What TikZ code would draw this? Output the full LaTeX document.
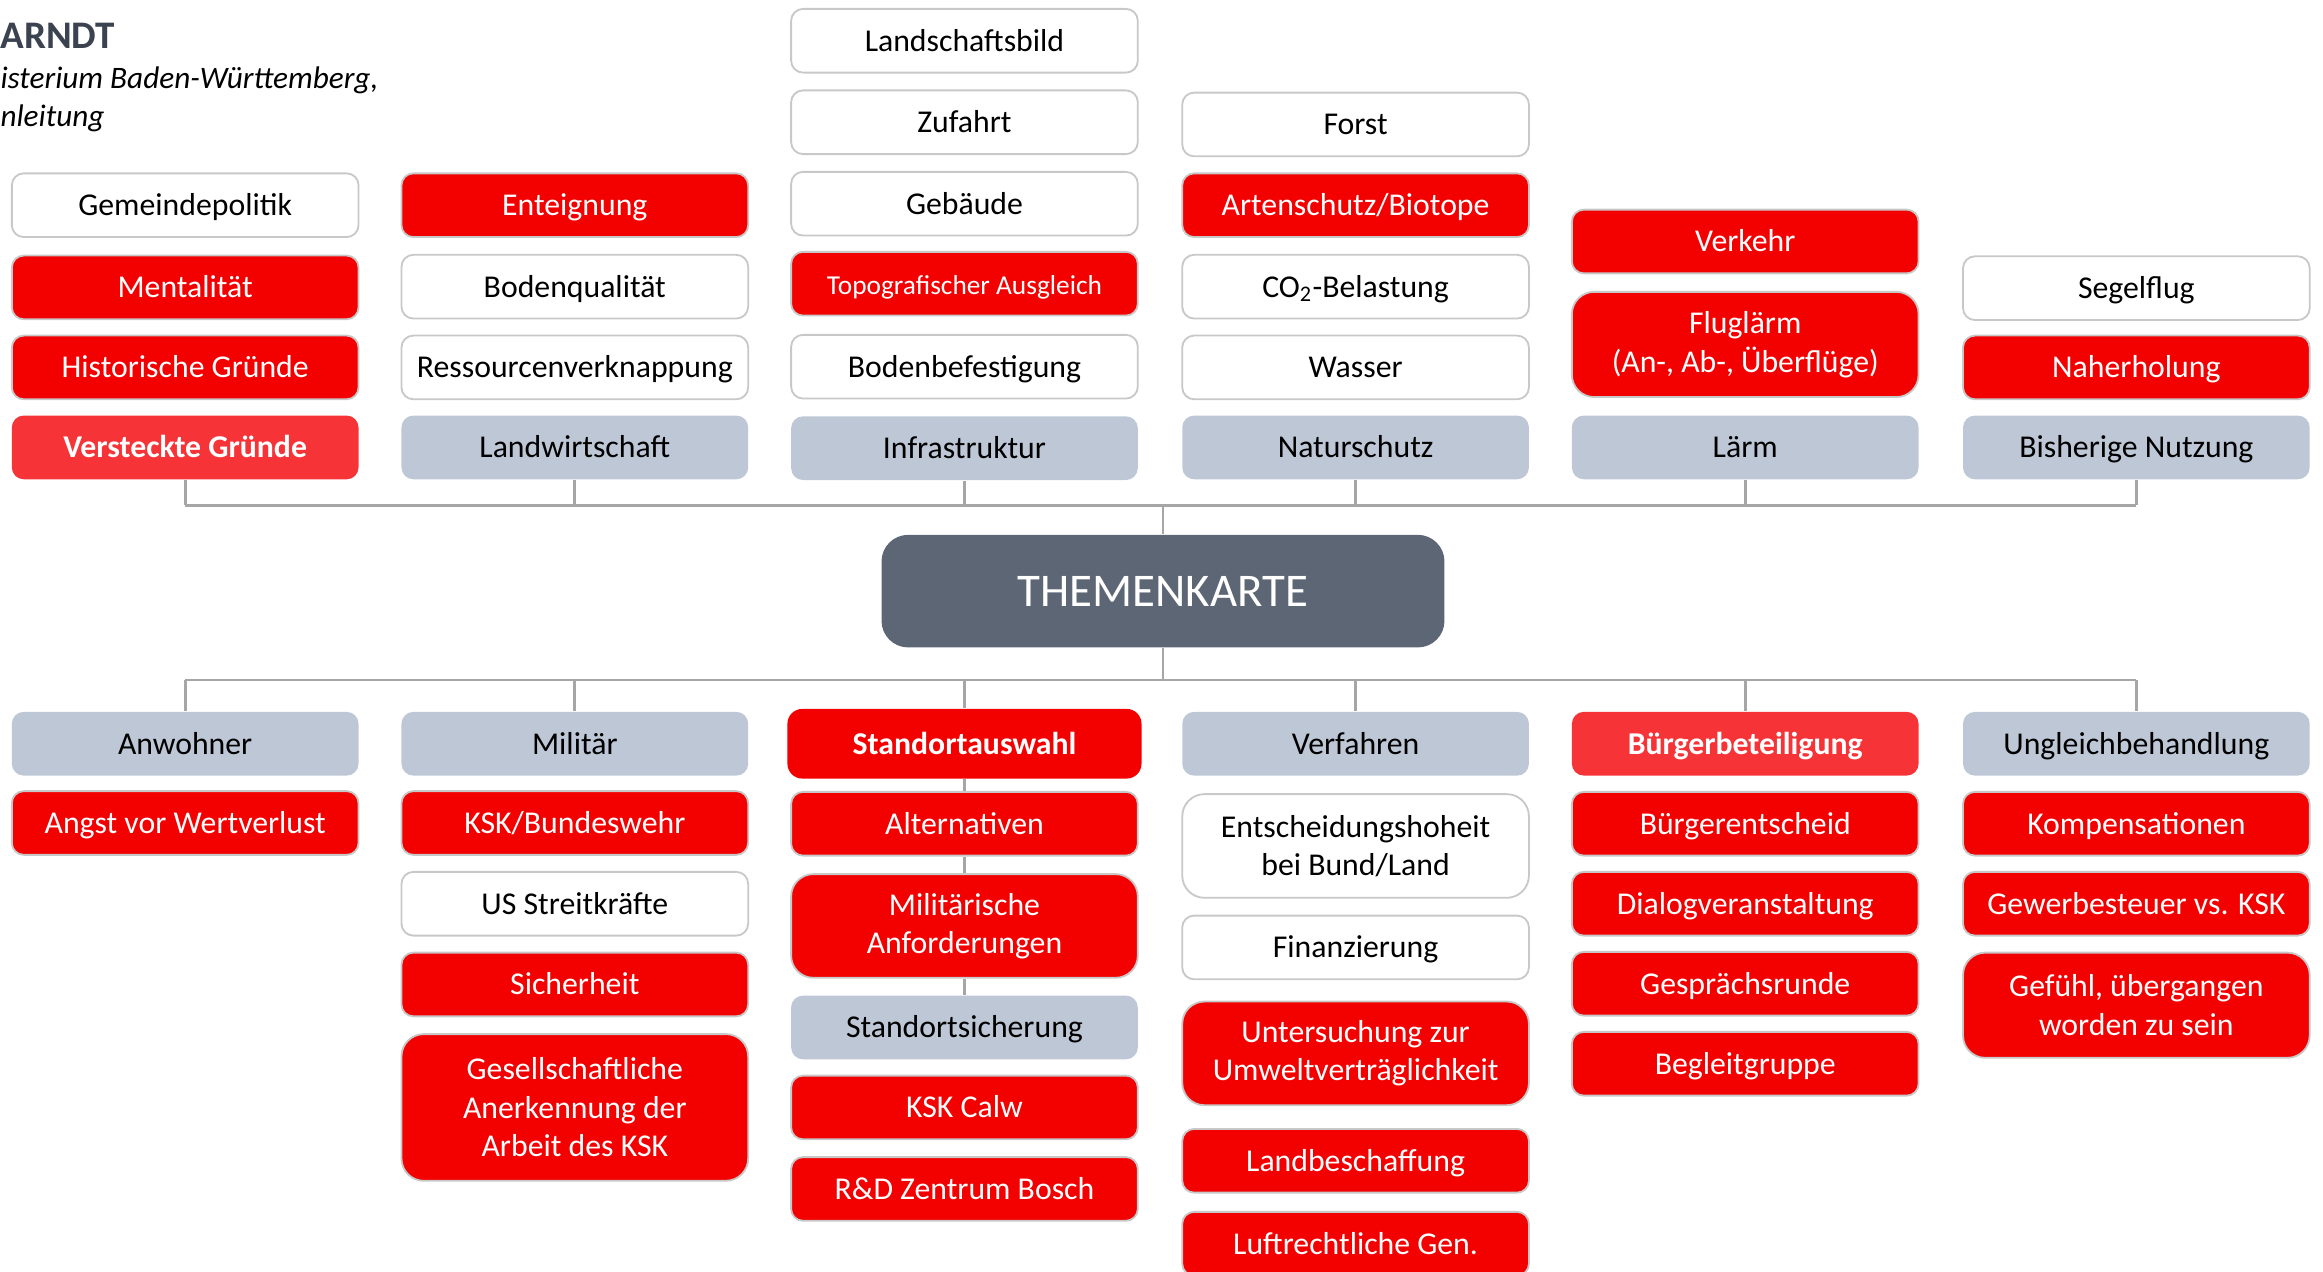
\documentclass[tikz,border=0pt]{standalone}
\usepackage{fontspec}
\setmainfont{Carlito}
\usepackage{xcolor}
\usepackage{tikz}

\definecolor{issuered}{RGB}{243,0,0}
\definecolor{keyred}{RGB}{246,52,56}
\definecolor{catgray}{RGB}{190,199,214}
\definecolor{boxline}{RGB}{200,200,200}
\definecolor{hubgray}{RGB}{93,102,117}
\definecolor{linegray}{RGB}{166,166,166}
\definecolor{headgray}{RGB}{59,66,80}

\begin{document}
\begin{tikzpicture}[
    topic/.style={
        rectangle,
        rounded corners=0.16cm,
        minimum width=4.68cm,
        minimum height=0.86cm,
        text height=10pt,
        text depth=2pt,
        inner sep=2pt,
        align=center,
        draw=boxline,
        line width=0.7pt,
        fill=white,
        font=\fontsize{12.2}{14.8}\selectfont
    },
    issue/.style={topic, fill=issuered, text=white},
    keyissue/.style={
        topic,
        draw=none,
        fill=keyred,
        text=white,
        font=\fontsize{12.2}{14.8}\selectfont\bfseries
    },
    category/.style={topic, draw=none, fill=catgray},
    tall/.style={
        minimum height=#1,
        rounded corners=0.3cm,
        text height={},
        text depth={}
    },
    link/.style={draw=linegray, line width=1.1pt}
]

    \useasboundingbox (0,0) rectangle (31.36,-17.16);

    % Header
    \node[anchor=west, inner sep=0, text=headgray,
          font=\fontsize{15}{18}\selectfont\bfseries] (autor) at (0,-0.48) {ARNDT};
    \node[anchor=west, inner sep=0,
          font=\fontsize{12}{14.8}\selectfont\itshape] (quelle) at (0,-1.08) {isterium Baden-Württemberg,};
    \node[anchor=west, inner sep=0,
          font=\fontsize{12}{14.8}\selectfont\itshape] (quelleb) at (0,-1.6) {nleitung};

    % Central node
    \node[fill=hubgray, text=white, rounded corners=0.36cm,
          minimum width=7.6cm, minimum height=1.52cm,
          font=\fontsize{18}{22}\selectfont] (karte) at (15.7,-7.98) {THEMENKARTE};

    % Upper column 1
    \node[topic] (gemeinde) at (2.5,-2.77) {Gemeindepolitik};
    \node[issue] (mental) at (2.5,-3.88) {Mentalität};
    \node[issue] (histor) at (2.5,-4.96) {Historische Gründe};
    \node[keyissue] (versteckt) at (2.5,-6.04) {Versteckte Gründe};

    % Upper column 2
    \node[issue] (enteign) at (7.76,-2.77) {Enteignung};
    \node[topic] (boden) at (7.76,-3.87) {Bodenqualität};
    \node[topic] (ressourc) at (7.76,-4.96) {Ressourcenverknappung};
    \node[category] (landw) at (7.76,-6.04) {Landwirtschaft};

    % Upper column 3
    \node[topic] (landsch) at (13.02,-0.55) {Landschaftsbild};
    \node[topic] (zufahrt) at (13.02,-1.65) {Zufahrt};
    \node[topic] (gebaeude) at (13.02,-2.75) {Gebäude};
    \node[issue, font=\fontsize{10.5}{13}\selectfont] (topo) at (13.02,-3.83) {Topografischer Ausgleich};
    \node[topic] (befest) at (13.02,-4.95) {Bodenbefestigung};
    \node[category] (infra) at (13.02,-6.05) {Infrastruktur};

    % Upper column 4
    \node[topic] (forst) at (18.3,-1.68) {Forst};
    \node[issue] (arten) at (18.3,-2.77) {Artenschutz/Biotope};
    \node[topic] (cozwei) at (18.3,-3.87) {CO\textsubscript{2}-Belastung};
    \node[topic] (wasser) at (18.3,-4.96) {Wasser};
    \node[category] (natur) at (18.3,-6.04) {Naturschutz};

    % Upper column 5
    \node[issue] (verkehr) at (23.56,-3.26) {Verkehr};
    \node[issue, tall=1.42cm] (flug) at (23.56,-4.65) {Fluglärm\\(An-, Ab-, Überflüge)};
    \node[category] (laerm) at (23.56,-6.04) {Lärm};

    % Upper column 6
    \node[topic] (segel) at (28.84,-3.89) {Segelflug};
    \node[issue] (naherh) at (28.84,-4.96) {Naherholung};
    \node[category] (nutzung) at (28.84,-6.04) {Bisherige Nutzung};

    % Lower column 1
    \node[category] (anwohner) at (2.5,-10.04) {Anwohner};
    \node[issue] (wert) at (2.5,-11.11) {Angst vor Wertverlust};

    % Lower column 2
    \node[category] (militaer) at (7.76,-10.04) {Militär};
    \node[issue] (bundesw) at (7.76,-11.11) {KSK/Bundeswehr};
    \node[topic] (usa) at (7.76,-12.2) {US Streitkräfte};
    \node[issue] (sicher) at (7.76,-13.29) {Sicherheit};
    \node[issue, tall=1.98cm] (anerk) at (7.76,-14.95)
        {Gesellschaftliche\\Anerkennung der\\Arbeit des KSK};

    % Lower column 3
    \node[issue, draw=none, minimum width=4.78cm, minimum height=0.94cm,
          rounded corners=0.2cm, font=\fontsize{12.2}{14.8}\selectfont\bfseries]
        (standort) at (13.02,-10.04) {Standortauswahl};
    \node[issue] (altern) at (13.02,-11.12) {Alternativen};
    \node[issue, tall=1.4cm] (anford) at (13.02,-12.5) {Militärische\\Anforderungen};
    \node[category] (sicherung) at (13.02,-13.87) {Standortsicherung};
    \node[issue] (calw) at (13.02,-14.95) {KSK Calw};
    \node[issue] (bosch) at (13.02,-16.05) {R\&D Zentrum Bosch};

    % Lower column 4
    \node[category] (verfahren) at (18.3,-10.04) {Verfahren};
    \node[topic, tall=1.4cm] (hoheit) at (18.3,-11.42) {Entscheidungshoheit\\bei Bund/Land};
    \node[topic] (finanz) at (18.3,-12.79) {Finanzierung};
    \node[issue, tall=1.4cm] (uvp) at (18.3,-14.22) {Untersuchung zur\\Umweltverträglichkeit};
    \node[issue] (landbe) at (18.3,-15.67) {Landbeschaffung};
    \node[issue] (luftr) at (18.3,-16.79) {Luftrechtliche Gen.};

    % Lower column 5
    \node[keyissue] (buerger) at (23.56,-10.04) {Bürgerbeteiligung};
    \node[issue] (entscheid) at (23.56,-11.12) {Bürgerentscheid};
    \node[issue] (dialog) at (23.56,-12.2) {Dialogveranstaltung};
    \node[issue] (gespraech) at (23.56,-13.28) {Gesprächsrunde};
    \node[issue] (begleit) at (23.56,-14.36) {Begleitgruppe};

    % Lower column 6
    \node[category] (ungleich) at (28.84,-10.04) {Ungleichbehandlung};
    \node[issue] (kompens) at (28.84,-11.12) {Kompensationen};
    \node[issue] (gewerbe) at (28.84,-12.2) {Gewerbesteuer vs. KSK};
    \node[issue, tall=1.42cm] (gefuehl) at (28.84,-13.57) {Gefühl, übergangen\\worden zu sein};

    % Bus lines
    \coordinate (obus) at (15.7,-6.82);
    \coordinate (ubus) at (15.7,-9.18);

    \draw[link] (karte.north) -- (obus);
    \draw[link] (versteckt.south |- obus) -- (nutzung.south |- obus);
    \foreach \n in {versteckt, landw, infra, natur, laerm, nutzung}
        \draw[link] (\n.south) -- (\n.south |- obus);

    \draw[link] (karte.south) -- (ubus);
    \draw[link] (anwohner.north |- ubus) -- (ungleich.north |- ubus);
    \foreach \n in {anwohner, militaer, standort, verfahren, buerger, ungleich}
        \draw[link] (\n.north) -- (\n.north |- ubus);

    % Chain under Standortauswahl
    \draw[link] (standort.south) -- (altern.north);
    \draw[link] (altern.south) -- (anford.north);
    \draw[link] (anford.south) -- (sicherung.north);

\end{tikzpicture}
\end{document}
